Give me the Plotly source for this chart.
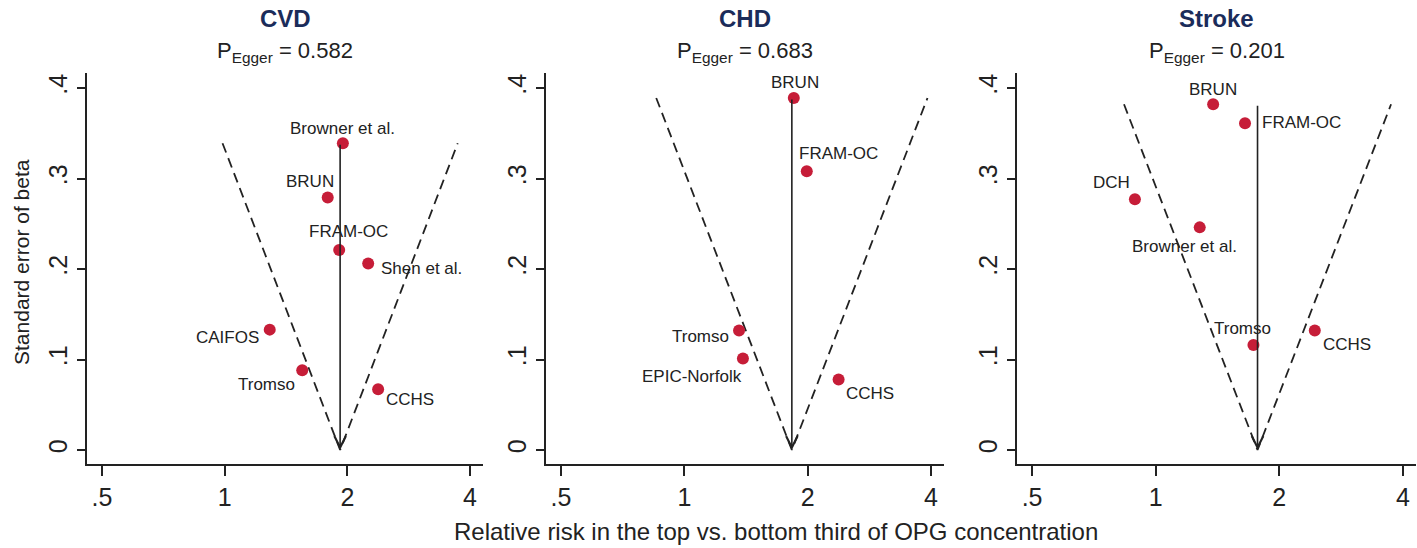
import numpy as np
import plotly.graph_objects as go

# ---------------- data ----------------
outcomes = ["CVD", "CHD", "Stroke"]
p_egger = [0.582, 0.683, 0.201]
pooled_rr = [1.92, 1.83, 1.77]

cvd_studies = ["Browner et al.", "BRUN", "FRAM-OC", "Shen et al.", "CAIFOS", "Tromso", "CCHS"]
cvd_rr = [1.95, 1.79, 1.91, 2.25, 1.29, 1.55, 2.38]
cvd_se = [0.339, 0.279, 0.221, 0.206, 0.133, 0.088, 0.067]

chd_studies = ["BRUN", "FRAM-OC", "Tromso", "EPIC-Norfolk", "CCHS"]
chd_rr = [1.85, 1.99, 1.36, 1.39, 2.38]
chd_se = [0.389, 0.308, 0.132, 0.101, 0.078]

stroke_studies = ["BRUN", "FRAM-OC", "DCH", "Browner et al.", "Tromso", "CCHS"]
stroke_rr = [1.38, 1.65, 0.89, 1.28, 1.73, 2.44]
stroke_se = [0.382, 0.361, 0.277, 0.246, 0.116, 0.132]

x_tickvals = [0.5, 1, 2, 4]
x_ticktext = [".5", "1", "2", "4"]
y_tickvals = [0, 0.1, 0.2, 0.3, 0.4]
y_ticktext = ["0", ".1", ".2", ".3", ".4"]

x_title = "Relative risk in the top vs. bottom third of OPG concentration"
y_title = "Standard error of beta"

# ---------------- style / label placement (anchor, dx px, dy px down) ----------------
cvd_lab = [("center", 0, -15), ("right", 7, -16), ("center", 9, -18), ("left", 12, 5),
           ("right", -10, 8), ("right", -6, 14), ("left", 7, 10)]
chd_lab = [("center", 1, -15), ("left", -9, -18), ("right", -9, 6), ("right", 0, 18), ("left", 6, 14)]
stroke_lab = [("center", 0, -15), ("left", 16, -1), ("right", -4, -17), ("center", -15, 19),
              ("center", -11, -17), ("left", 7, 14)]

W, H = 1417, 548
x_domains_px = [(87, 483), (546, 944), (1017, 1416)]
y_dom = [1 - 464 / H, 1 - 73 / H]
x_range = [np.log10(0.5) - 15 / 123 * np.log10(2), np.log10(4) + 13 / 123 * np.log10(2)]
y_range = [-14 / 905, 377 / 905]

RED = "#c61d38"
NAVY = "#1b2c5a"
INK = "#222222"
FONT = "Liberation Sans, Arial, sans-serif"

panels = [
    (cvd_studies, cvd_rr, cvd_se, cvd_lab),
    (chd_studies, chd_rr, chd_se, chd_lab),
    (stroke_studies, stroke_rr, stroke_se, stroke_lab),
]

fig = go.Figure()
annotations = []
layout_axes = {}

for i, (studies, rr, se, labs) in enumerate(panels):
    k = "" if i == 0 else str(i + 1)
    xa, ya = "x" + k, "y" + k
    pooled = pooled_rr[i]
    top = max(se)
    lo = np.exp(np.log(pooled) - 1.96 * top)
    hi = np.exp(np.log(pooled) + 1.96 * top)

    # funnel (pseudo 95% CI limits)
    fig.add_trace(go.Scatter(x=[lo, pooled, hi], y=[top, 0, top], mode="lines",
                             line=dict(color=INK, width=1.8, dash="10px,6px"),
                             xaxis=xa, yaxis=ya, showlegend=False, hoverinfo="skip"))
    # studies
    fig.add_trace(go.Scatter(x=rr, y=se, mode="markers",
                             marker=dict(color=RED, size=12, line=dict(width=0)),
                             xaxis=xa, yaxis=ya, showlegend=False, text=studies))
    # pooled arrow
    annotations.append(dict(x=np.log10(pooled), y=0, ax=np.log10(pooled), ay=top,
                            xref=xa, yref=ya, axref=xa, ayref=ya, text="",
                            showarrow=True, arrowhead=5, arrowsize=1.4, arrowwidth=1.6,
                            arrowcolor=INK, standoff=0))
    # labels
    for name, r, s, (anc, dx, dy) in zip(studies, rr, se, labs):
        annotations.append(dict(x=np.log10(r), y=s, xref=xa, yref=ya, text=name,
                                showarrow=False, xanchor=anc, yanchor="middle",
                                xshift=dx, yshift=-dy, borderpad=0,
                                font=dict(size=17, color=INK, family=FONT)))

    x0, x1 = x_domains_px[i]
    cx = (x0 + x1) / 2 / W
    annotations.append(dict(x=cx, y=1 - 18 / H, xref="paper", yref="paper",
                            text="<b>%s</b>" % outcomes[i], showarrow=False,
                            xanchor="center", yanchor="middle",
                            font=dict(size=24, color=NAVY, family=FONT)))
    annotations.append(dict(x=cx, y=1 - 52 / H, xref="paper", yref="paper",
                            text="P<sub>Egger</sub> = %.3f" % p_egger[i], showarrow=False,
                            xanchor="center", yanchor="middle",
                            font=dict(size=22, color=INK, family=FONT)))

    layout_axes["xaxis" + k] = dict(
        type="log", domain=[x0 / W, x1 / W], range=x_range, anchor=ya,
        tickvals=x_tickvals, ticktext=x_ticktext, ticks="outside", ticklen=10,
        tickwidth=1.5, tickcolor=INK, showline=True, linecolor=INK, linewidth=1.6,
        showgrid=False, zeroline=False, tickfont=dict(size=25, color=INK, family=FONT))
    layout_axes["yaxis" + k] = dict(
        domain=y_dom, range=y_range, anchor=xa,
        tickvals=y_tickvals, ticktext=y_ticktext, ticks="outside", ticklen=8,
        tickwidth=1.5, tickcolor=INK, showline=True, linecolor=INK, linewidth=1.6,
        showgrid=False, zeroline=False, tickangle=-90,
        tickfont=dict(size=25, color=INK, family=FONT))

annotations.append(dict(x=21 / W, y=1 - 262 / H, xref="paper", yref="paper", text=y_title,
                        showarrow=False, textangle=-90, xanchor="center", yanchor="middle",
                        font=dict(size=21, color=INK, family=FONT)))
annotations.append(dict(x=776 / W, y=1 - 531 / H, xref="paper", yref="paper", text=x_title,
                        showarrow=False, xanchor="center", yanchor="middle",
                        font=dict(size=24, color=INK, family=FONT)))

fig.update_layout(width=W, height=H, margin=dict(l=0, r=0, t=0, b=0),
                  paper_bgcolor="white", plot_bgcolor="white",
                  annotations=annotations, font=dict(family=FONT, color=INK),
                  **layout_axes)

fig.write_html("out.html", config={"displayModeBar": False},
               post_script="document.body.style.margin='0px';document.body.style.overflow='hidden';")
